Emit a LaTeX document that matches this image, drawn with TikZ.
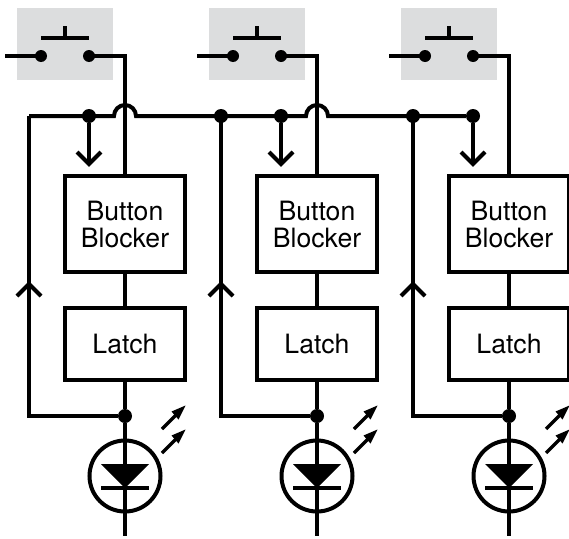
\documentclass[tikz,border=0pt]{standalone}
\usepackage{fontspec}
\setmainfont{TeX Gyre Heros}
\usetikzlibrary{calc}
\definecolor{panelgray}{HTML}{DCDDDE}
\tikzset{
  wire/.style={line width=4pt,line cap=butt,line join=miter},
  blockbox/.style={draw,line width=4pt,fill=white,minimum width=120pt,inner sep=0pt,align=center,font=\fontsize{26.6pt}{27pt}\selectfont},
  dotn/.style={circle,fill=black,inner sep=0pt,minimum size=#1},
  dotn/.default=14pt,
  graybox/.style={fill=panelgray,draw=none,minimum width=96pt,minimum height=72pt,inner sep=0pt},
  chev/.style={line width=4pt,line cap=butt,line join=miter},
  led/.style={circle,draw,line width=4pt,minimum size=71pt,inner sep=0pt},
  ray/.style={line width=3.5pt},
  rayhead/.style={fill=black,draw=none}
}
\begin{document}
\begin{tikzpicture}[x=1pt,y=-1pt]
\useasboundingbox (0,0) rectangle (569,538);
\foreach \i/\o in {1/0,2/192,3/384}{
  \begin{scope}[shift={(\o,0)}]
    \node[graybox] (g\i) at (65,44) {};
    \coordinate (swl\i) at (41,56);
    \coordinate (swr\i) at (89,56);
    \coordinate (barl\i) at (41,38);
    \coordinate (barr\i) at (89,38);
    \coordinate (st\i) at (65,38);
    \coordinate (stt\i) at (65,26);
    \coordinate (in\i) at (5,56);
    \coordinate (cor\i) at (125,56);
    \node[blockbox,minimum height=96pt] (bb\i) at (125,224) {Button\\Blocker};
    \node[blockbox,minimum height=72pt] (la\i) at (125,344) {\raisebox{1pt}{Latch}};
    \node[led] (le\i) at (125,476) {};
    \coordinate (end\i) at (125,536);
    \node[dotn] (od\i) at (125,416) {};
    \coordinate (fbc\i) at (29,416);
    \coordinate (fbt\i) at (29,116);
    \node[dotn] (tap\i) at (89,116) {};
    \coordinate (tip\i) at (89,164);
    \coordinate (tipl\i) at (77,152);
    \coordinate (tipr\i) at (101,152);
    \coordinate (uptip\i) at (29,284);
    \coordinate (upl\i) at (17,296);
    \coordinate (upr\i) at (41,296);
    \coordinate (tria\i) at (101,464);
    \coordinate (trib\i) at (149,464);
    \coordinate (tric\i) at (125,488);
    \coordinate (cbl\i) at (101,488);
    \coordinate (cbr\i) at (149,488);
    \coordinate (ra\i) at (162,429);
    \coordinate (rb\i) at (176,415);
    \coordinate (rc\i) at (185.5,405.5);
    \coordinate (rd\i) at (162,453);
    \coordinate (re\i) at (176,439);
    \coordinate (rf\i) at (185.5,429.5);
  \end{scope}
  % switch
  \draw[wire] (in\i) -- (swl\i);
  \draw[wire] (barl\i) -- (barr\i);
  \draw[wire] (st\i) -- (stt\i);
  \node[dotn=12pt] (dl\i) at (swl\i) {};
  \node[dotn=12pt] (dr\i) at (swr\i) {};
  \draw[wire] (dr\i.center) -- (cor\i) -- (bb\i.north);
  % block chain
  \draw[wire] (bb\i.south) -- (la\i.north);
  \draw[wire] (la\i.south) -- (od\i);
  \draw[wire] (od\i) -- (end\i);
  % feedback
  \draw[wire] (od\i) -- (fbc\i) -- (fbt\i);
  \draw[chev] (upl\i) -- (uptip\i) -- (upr\i);
  % tap arrow
  \draw[wire] (tap\i) -- (tip\i);
  \draw[chev] (tipl\i) -- (tip\i) -- (tipr\i);
  % LED
  \fill (tria\i) -- (trib\i) -- (tric\i) -- cycle;
  \draw[wire] (cbl\i) -- (cbr\i);
  % light rays
  \draw[ray] (ra\i) -- (rb\i);
  \fill[rayhead] (rc\i) -- ++(-14,6) -- ++(7,8) -- cycle;
  \draw[ray] (rd\i) -- (re\i);
  \fill[rayhead] (rf\i) -- ++(-14,6) -- ++(7,8) -- cycle;
}
% bus with hops over the two vertical wires
\draw[wire] (fbt1) -- (114,116) arc[start angle=180,end angle=0,radius=11pt] -- (fbt2);
\draw[wire] (fbt2) -- (306,116) arc[start angle=180,end angle=0,radius=11pt] -- (tap3);
\node[dotn] (j2) at (fbt2) {};
\node[dotn] (j3) at (fbt3) {};
\end{tikzpicture}
\end{document}
